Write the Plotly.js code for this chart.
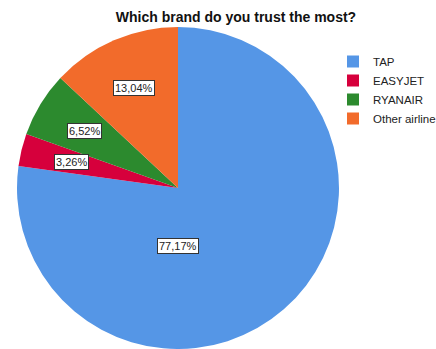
<!DOCTYPE html>
<html>
<head>
<meta charset="utf-8">
<script src="https://cdn.plot.ly/plotly-3.0.1.min.js"></script>
<style>
html,body{margin:0;padding:0;overflow:hidden;background:#fff;}
#chart{width:436px;height:349px;}
</style>
</head>
<body>
<div id="chart"></div>
<script>
const categories = ["TAP", "EASYJET", "RYANAIR", "Other airline"];
const percents = [77.17, 3.26, 6.52, 13.04];
const valueLabels = ["77,17%", "3,26%", "6,52%", "13,04%"];
const sliceColors = ["#5596E6", "#D6003C", "#2C8A2E", "#F26B2B"];

const W = 436, H = 349;
const M = {l: 14, r: 94, t: 27, b: 0, autoexpand: false};
const pw = W - M.l - M.r, ph = H - M.t - M.b;
const R = Math.min(pw, ph) / 2;

// annotation label positions derived from the slice angles (clockwise from 12 o'clock)
const total = percents.reduce((a, b) => a + b, 0);
let acc = 0;
const annotations = percents.map((v, i) => {
  const start = acc / total * 2 * Math.PI;
  acc += v;
  const end = acc / total * 2 * Math.PI;
  let mid = (start + end) / 2;
  let f = 0.68;
  if (v / total > 0.5) { mid = Math.PI; f = 0.36; }
  return {
    xref: "paper", yref: "paper",
    x: 0.5 + f * R * Math.sin(mid) / pw,
    y: 0.5 + f * R * Math.cos(mid) / ph,
    text: valueLabels[i],
    showarrow: false,
    font: {family: "Liberation Sans, Arial, sans-serif", size: 11, color: "#222"},
    bgcolor: "#ffffff",
    bordercolor: "#333333",
    borderwidth: 1,
    borderpad: 1,
    xanchor: "center", yanchor: "middle"
  };
});

const trace = {
  type: "pie",
  labels: categories,
  values: percents,
  sort: false,
  direction: "clockwise",
  rotation: 0,
  marker: {colors: sliceColors, line: {color: "#ffffff", width: 0}},
  textinfo: "none",
  hoverinfo: "label+percent"
};

const layout = {
  width: W, height: H,
  margin: M,
  paper_bgcolor: "#ffffff",
  font: {family: "Liberation Sans, Arial, sans-serif", size: 11, color: "#222"},
  title: {
    text: "<b>Which brand do you trust the most?</b>",
    font: {family: "Liberation Sans, Arial, sans-serif", size: 14, color: "#111"},
    x: 236 / W, xref: "container", xanchor: "center",
    y: 1 - 17 / H, yref: "container", yanchor: "middle"
  },
  showlegend: true,
  legend: {
    x: (333 - M.l) / pw, xanchor: "left",
    y: 1 - (47 - M.t) / ph, yanchor: "top",
    font: {family: "Liberation Sans, Arial, sans-serif", size: 11.5, color: "#222"},
    tracegroupgap: 0,
    bgcolor: "rgba(0,0,0,0)"
  },
  annotations: annotations
};

Plotly.newPlot("chart", [trace], layout, {displayModeBar: false, staticPlot: true});
</script>
</body>
</html>
